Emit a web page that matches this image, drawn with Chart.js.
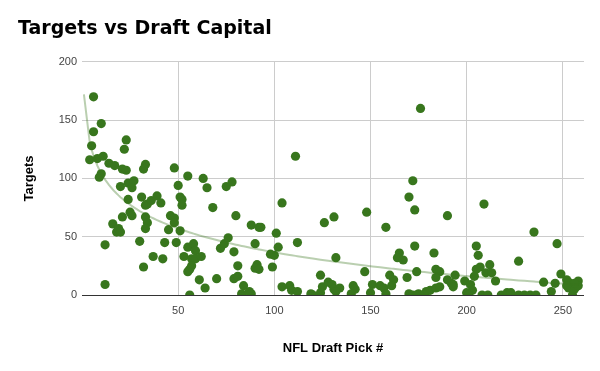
<!DOCTYPE html>
<html>
<head>
<meta charset="utf-8">
<script src="https://cdn.jsdelivr.net/npm/chart.js@4"></script>
<style>
  body { margin: 0; background: #fff; }
</style>
</head>
<body>
<canvas id="chart" width="600" height="371"></canvas>
<script>
// draft pick number and season targets, one entry per player
const picks = [
  6, 10, 6, 5, 4, 8, 11, 14, 17, 10, 9, 12, 12, 16, 18, 19, 20, 20,
  23, 22, 21, 23, 24, 27, 26, 24, 21, 25, 26, 33, 32, 31, 33, 34, 36, 33, 34, 33, 30, 32,
  39, 41, 37, 42, 43, 46, 48, 45, 48, 48, 50, 49,
  51, 52, 52, 51, 55, 63, 55, 58, 59, 53, 57, 59, 62, 57, 56, 55, 61, 64, 56, 65,
  75, 78, 68, 80, 70, 72, 74, 76, 79, 81, 79, 81, 84, 83, 87, 88, 88, 90,
  92, 93, 91, 90, 92, 98, 100, 99, 101, 102, 104, 104, 108, 109, 112, 111, 112,
  119, 124, 125, 126, 131, 132, 128, 130, 131, 134, 132, 124, 120,
  141, 142, 140, 148, 147, 151, 155, 157, 150, 158, 160, 162, 161, 158, 165, 164, 167,
  169, 170, 173, 172, 176, 173, 174, 183, 184, 186, 184, 190, 192, 170, 175, 179, 181, 184, 186, 172, 174, 178, 190,
  194, 193, 193, 199, 202, 203, 200, 201, 208, 211, 209, 205, 206, 212, 207, 205, 210, 213, 204, 215,
  218, 221, 223, 227, 230, 233, 236, 227, 235, 247, 240, 246, 244, 249, 253, 253, 258, 257, 256, 255, 252, 258, 256, 252
];
const targets = [
  170, 147, 140, 128, 116, 117, 119, 113, 111, 104, 101, 43, 9, 61, 54, 57, 54, 93,
  133, 125, 108, 107, 96, 98, 92, 82, 67, 71, 68, 112, 108, 84, 77, 78, 81, 67, 62, 57, 46, 24,
  85, 79, 33, 31, 45, 68, 66, 56, 62, 109, 94, 45,
  84, 82, 77, 55, 102, 100, 41, 44, 38, 33, 31, 31, 33, 25, 22, 20, 13, 6, 0, 92,
  93, 97, 75, 68, 14, 40, 44, 49, 37, 25, 14, 16, 8, 1, 3, 1, 60, 44,
  58, 58, 26, 23, 22, 35, 34, 24, 53, 41, 79, 7, 8, 4, 3, 119, 45,
  1, 17, 7, 62, 67, 32, 11, 9, 5, 6, 3, 2, 0,
  8, 5, 1, 71, 20, 9, 8, 6, 2, 58, 17, 13, 8, 1, 36, 32, 30,
  15, 84, 73, 98, 160, 42, 20, 36, 22, 20, 15, 13, 10, 1, 1, 3, 4, 6, 7, 0, 0, 0, 68,
  17, 9, 7, 12, 9, 4, 2, 0, 0, 0, 78, 42, 34, 26, 24, 22, 19, 19, 16, 12,
  0, 2, 2, 0, 0, 0, 0, 29, 54, 44, 11, 10, 3, 18, 11, 6, 12, 7, 5, 0, 13, 8, 10, 8
];
const xTickValues = [50, 100, 150, 200, 250];
const yTickValues = [0, 50, 100, 150, 200];

const points = picks.map((p, i) => ({ x: p, y: targets[i] }));

// logarithmic trendline, least squares on ln(pick)
const n = picks.length;
const lx = picks.map(p => Math.log(p));
const mx = lx.reduce((s, v) => s + v, 0) / n;
const my = targets.reduce((s, v) => s + v, 0) / n;
let sxy = 0, sxx = 0;
for (let i = 0; i < n; i++) {
  sxy += (lx[i] - mx) * (targets[i] - my);
  sxx += (lx[i] - mx) * (lx[i] - mx);
}
const slope = sxy / sxx;
const icept = my - slope * mx;
const trendX = [1, ...Array.from(new Set(picks)).sort((a, b) => a - b)];
const trend = trendX.map(x => ({ x: x, y: icept + slope * Math.log(x) }));

const font = "'Liberation Sans', Arial, sans-serif";
const ctx = document.getElementById('chart').getContext('2d');
new Chart(ctx, {
  type: 'scatter',
  data: {
    datasets: [
      {
        type: 'line',
        data: trend,
        borderColor: 'rgba(56, 118, 29, 0.35)',
        borderWidth: 2,
        pointRadius: 0,
        tension: 0,
      },
      {
        data: points,
        backgroundColor: '#38761d',
        borderColor: '#38761d',
        borderWidth: 0,
        pointRadius: 4.6,
      },
    ],
  },
  options: {
    responsive: false,
    animation: false,
    layout: { padding: { left: 18, right: 16, top: 18, bottom: 0 } },
    plugins: {
      legend: { display: false },
      tooltip: { enabled: false },
      title: {
        display: true,
        text: 'Targets vs Draft Capital',
        align: 'start',
        color: '#000',
        font: { family: "'DejaVu Sans', sans-serif", size: 19, weight: 'bold' },
        padding: { top: 0, bottom: 21 },
      },
    },
    scales: {
      x: {
        type: 'linear',
        min: 0,
        max: 261,
        afterBuildTicks: s => { s.ticks = xTickValues.map(v => ({ value: v })); },
        afterFit: s => { s.height = 76; },
        border: { display: false },
        grid: { color: '#cccccc', drawTicks: false },
        ticks: { color: '#444', padding: 9, font: { family: font, size: 11 } },
        title: {
          display: true,
          text: 'NFL Draft Pick #',
          color: '#000',
          font: { family: font, size: 13, weight: 'bold' },
          padding: { top: 4, bottom: 15 },
        },
      },
      y: {
        min: 0,
        max: 200,
        afterBuildTicks: s => { s.ticks = yTickValues.map(v => ({ value: v })); },
        afterFit: s => { s.width = 64; },
        border: { display: false },
        grid: {
          color: c => (c.tick && c.tick.value === 0 ? '#333333' : '#cccccc'),
          drawTicks: false,
        },
        ticks: { color: '#444', padding: 5, font: { family: font, size: 11 } },
        title: {
          display: true,
          text: 'Targets',
          color: '#000',
          font: { family: font, size: 13, weight: 'bold' },
          padding: { top: 4, bottom: 4 },
        },
      },
    },
  },
});
</script>
</body>
</html>
